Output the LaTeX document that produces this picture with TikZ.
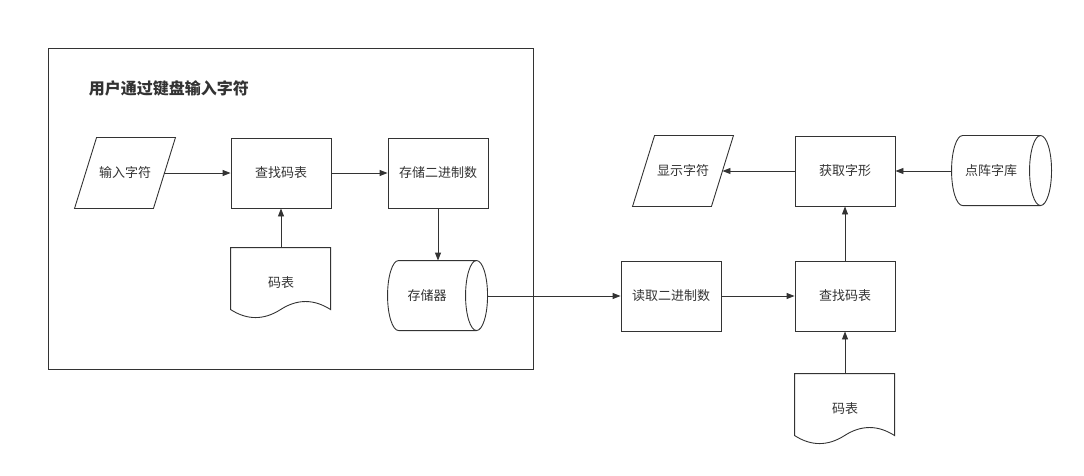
\documentclass[tikz,border=0pt]{standalone}
\usepackage{fontspec}
\setmainfont{Noto Sans CJK SC}
\usepackage{xcolor}
\usetikzlibrary{arrows.meta,positioning,calc}
\definecolor{ink}{HTML}{333333}
\tikzset{
  box/.style={draw, rectangle, minimum width=100pt, minimum height=70pt, inner sep=0pt},
  shell/.style={rectangle, minimum width=100pt, minimum height=70pt, inner sep=0pt},
  arr/.style={-{Triangle[length=8pt,width=6pt]}},
}

\begin{document}
\begin{tikzpicture}[x=1pt, y=-1pt, draw=ink, text=ink, line width=0.9pt,
    font=\fontsize{13}{16}\selectfont]
    \useasboundingbox (0,0) rectangle (1084,476);
    % keyboard part
    \node[draw, rectangle, minimum width=485pt, minimum height=321pt] (frame) at (290.5,208.5) {};
    \node[anchor=west, font=\fontsize{16}{19}\selectfont\bfseries] (title) at (85,88) {用户通过键盘输入字符};
    \node[shell] (in) at (125,173) {输入字符};
    \node[box] (look1) at (281,173) {查找码表};
    \node[box] (store) at (438,173) {存储二进制数};
    \node[shell] (doc1) at (281,283) {码表};
    \node[shell] (mem) at (438,296) {存储器\hspace*{22pt}};
    % display part
    \node[box] (read) at (671,296) {读取二进制数};
    \node[box] (look2) at (845,296) {查找码表};
    \node[box] (glyph) at (845,171) {获取字形};
    \node[shell] (show) at (683,171) {显示字符};
    \node[shell] (lib) at (1002,171) {点阵字库\hspace*{22pt}};
    \node[shell] (doc2) at (845,409) {码表};

    % outlines
    \draw (in.south west) -- ([xshift=22pt]in.north west) -- (in.north east) -- ([xshift=-22pt]in.south east) -- cycle;
    \draw (show.south west) -- ([xshift=22pt]show.north west) -- (show.north east) -- ([xshift=-22pt]show.south east) -- cycle;
    \foreach \d in {doc1,doc2} {
        \begin{scope}[shift={(\d.north west)}]
            \draw (0,0) -- (100,0) -- (100,62) .. controls (83.3,51.3) and (66.7,51.3) .. (50,62)
                .. controls (33.3,72.7) and (16.7,72.7) .. (0,62) -- cycle;
        \end{scope}
    }
    \foreach \c in {mem,lib} {
        \begin{scope}[shift={(\c.north west)}]
            \draw (11,0) -- (89,0) (11,70) -- (89,70)
                (89,35) ellipse [x radius=11pt, y radius=35pt]
                (11,0) arc [start angle=90, end angle=270, x radius=11pt, y radius=35pt];
        \end{scope}
    }

    % connectors
    \draw[arr] ([xshift=-11pt]in.east) -- (look1);
    \draw[arr] (look1) -- (store);
    \draw[arr] (doc1) -- (look1);
    \draw[arr] (store) -- (mem);
    \draw[arr] (mem) -- (read);
    \draw[arr] (read) -- (look2);
    \draw[arr] (doc2) -- (look2);
    \draw[arr] (look2) -- (glyph);
    \draw[arr] (lib) -- (glyph);
    \draw[arr] (glyph) -- ([xshift=-11pt]show.east);
\end{tikzpicture}
\end{document}
